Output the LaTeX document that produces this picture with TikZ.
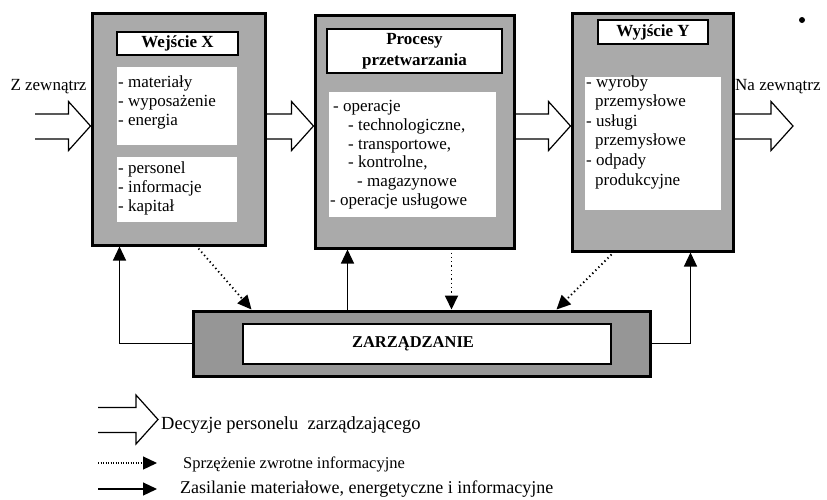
\documentclass[tikz,border=0pt]{standalone}
\usepackage{fontspec}
\setmainfont{Liberation Serif}
\usetikzlibrary{arrows.meta,calc}
\definecolor{stipple}{RGB}{170,170,170}
\definecolor{stippledark}{RGB}{150,150,150}
\tikzset{
  outerbox/.style={draw=black, line width=3pt, fill=stipple, inner sep=0pt},
  titlebox/.style={draw=black, line width=1.8pt, fill=white, inner sep=0pt, font=\fontsize{17}{21}\selectfont\bfseries, align=center},
  listbox/.style={fill=white, inner sep=0pt},
  listtext/.style={inner sep=0pt, anchor=north west, align=left, font=\fontsize{17}{19.2}\selectfont},
  lbl/.style={inner sep=0pt, font=\fontsize{17}{19}\selectfont},
  hollow/.style={draw=black, line width=1.2pt, line join=miter},
  feed/.style={draw=black, line width=1.2pt, -{Triangle[length=14pt,width=13pt]}},
  fb/.style={draw=black, line width=1.8pt, dash pattern=on 1.3pt off 3pt, -{Triangle[length=14pt,width=13pt]}},
}
\newcommand\hollowarr[2]{%
  \draw[hollow] ($(#1)+(0,-12)$) -- ($(#2)+(-22,-12)$) -- ($(#2)+(-22,-24.5)$) -- (#2)
     -- ($(#2)+(-22,24.5)$) -- ($(#2)+(-22,13)$) -- ($(#1)+(0,13)$);}
\begin{document}
\begin{tikzpicture}[x=1pt,y=-1pt]
\useasboundingbox (0,0) rectangle (827,499);

% main blocks
\node[outerbox, minimum width=173pt, minimum height=232pt] (b1) at (178.5,129) {};
\node[outerbox, minimum width=199pt, minimum height=233pt] (b2) at (414.5,131.5) {};
\node[outerbox, minimum width=161pt, minimum height=238pt] (b3) at (652.5,132) {};

% block 1
\node[titlebox, minimum width=121pt, minimum height=23pt] (t1) at (177.5,43.5) {Wejście X};
\node[listbox, minimum width=120pt, minimum height=78pt] (w1a) at (177,106) {};
\node[listbox, minimum width=120pt, minimum height=65pt] (w1b) at (177,189.5) {};
\node[listtext] (x1a) at (118,75) {- materiały\\- wyposażenie\\- energia};
\node[listtext] (x1b) at (118,161.5) {- personel\\- informacje\\- kapitał};

% block 2
\node[titlebox, minimum width=175pt, minimum height=44pt] (t2) at (414.5,51) {Procesy\\przetwarzania};
\node[listbox, minimum width=167pt, minimum height=125pt] (w2) at (412.5,154.5) {};
\node[listtext, font=\fontsize{17}{18.8}\selectfont] (x2) at (330,100)
  {\hspace{3pt}- operacje\\\hspace{18pt}- technologiczne,\\\hspace{18pt}- transportowe,\\\hspace{18pt}- kontrolne,\\\hspace{27pt}- magazynowe\\- operacje usługowe};

% block 3
\node[titlebox, minimum width=110pt, minimum height=24pt] (t3) at (653,32) {Wyjście Y};
\node[listbox, minimum width=136pt, minimum height=133pt] (w3) at (653,143.5) {};
\node[listtext, font=\fontsize{17}{19.6}\selectfont] (x3) at (586,75)
  {- wyroby\\\hspace{9pt}przemysłowe\\- usługi\\\hspace{9pt}przemysłowe\\- odpady\\\hspace{9pt}produkcyjne};

% stray dot
\fill (802,20) circle (3pt);

% management block
\node[outerbox, fill=stippledark, minimum width=457pt, minimum height=65pt] (zar) at (421.5,343.5) {};
\node[draw=black, line width=1.5pt, fill=white, minimum width=368pt, minimum height=40pt, inner sep=0pt] (zin) at (427,344) {};
\node[inner sep=0pt, font=\fontsize{16.5}{19}\selectfont\bfseries] (zt) at (413,344) {ZARZĄDZANIE};

% outside labels
\node[lbl] (zz) at (48.5,87) {Z zewnątrz};
\node[lbl, anchor=west] (nz) at (735,87) {Na zewnątrz};

% hollow decision arrows
\coordinate (h1s) at (35,126);
\coordinate (h1e) at (b1.west |- h1s);
\coordinate (h2s) at (b1.east |- h1s);
\coordinate (h2e) at (b2.west |- h1s);
\coordinate (h3s) at (b2.east |- h1s);
\coordinate (h3e) at (b3.west |- h1s);
\coordinate (h4s) at (b3.east |- h1s);
\coordinate (h4e) at (793,126);
\hollowarr{h1s}{h1e}
\hollowarr{h2s}{h2e}
\hollowarr{h3s}{h3e}
\hollowarr{h4s}{h4e}

% supply connectors
\draw[feed] (zar.west) -| ($(b1.south west)+(29,0)$);
\draw[feed] ($(zar.north west)+(156,0)$) -- ($(b2.south west)+(34,0)$);
\draw[feed] (zar.east) -| ($(b3.south west)+(120,0)$);

% feedback connectors
\draw[fb] ($(b1.south west)+(108,2)$) -- ($(zar.north west)+(60,0)$);
\draw[fb] ($(b2.south west)+(138,3)$) -- ($(zar.north west)+(260,0)$);
\draw[fb] ($(b3.south west)+(41,2)$) -- ($(zar.north west)+(365,0)$);

% legend
\coordinate (l1s) at (98,419.5);
\coordinate (l1e) at (158,419.5);
\hollowarr{l1s}{l1e}
\node[lbl, anchor=west, font=\fontsize{18.5}{20}\selectfont] (d1) at (161,425) {Decyzje personelu\ \ zarządzającego};
\coordinate (l2s) at (98,463);
\coordinate (l2e) at (157,463);
\draw[fb, line width=1.2pt, dash pattern=on 1pt off 1.5pt] (l2s) -- (l2e);
\node[lbl, anchor=west, font=\fontsize{16.5}{19}\selectfont] (d2) at (183,464) {Sprzężenie zwrotne informacyjne};
\coordinate (l3s) at (98,489);
\coordinate (l3e) at (157,489);
\draw[feed] (l3s) -- (l3e);
\node[lbl, anchor=west, font=\fontsize{18}{20}\selectfont] (d3) at (180,489) {Zasilanie materiałowe, energetyczne i informacyjne};
\end{tikzpicture}
\end{document}
